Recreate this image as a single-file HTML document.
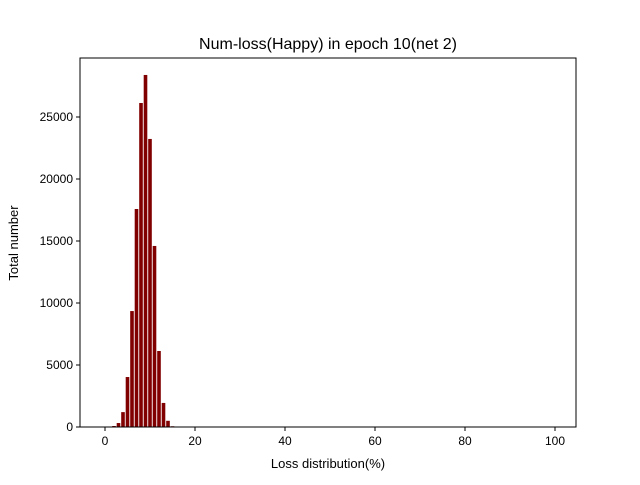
<!DOCTYPE html>
<html><head><meta charset="utf-8"><style>
body{margin:0;background:#fff;}
text{font-family:"Liberation Sans","DejaVu Sans",sans-serif;fill:#000;}
</style></head><body>
<svg id="c" width="640" height="480" xmlns="http://www.w3.org/2000/svg">
<rect width="640" height="480" fill="#fff"/>
<text x="328" y="49" font-size="16" text-anchor="middle">Num-loss(Happy) in epoch 10(net 2)</text>
<text x="328" y="468" font-size="13" text-anchor="middle">Loss distribution(%)</text>
<text transform="translate(18,243) rotate(-90)" font-size="13" text-anchor="middle">Total number</text>
<g id="bars"></g><g id="ticks"></g>
<rect x="80" y="58" width="496" height="369" fill="none" stroke="#000" stroke-width="1"/>
</svg>
<script>
const categories=[0,1,2,3,4,5,6,7,8,9,10,11,12,13,14,15];
const values=[0,10,80,320,1200,4030,9350,17580,26130,28390,23230,14600,6130,1940,500,60];
const xTicks=[0,20,40,60,80,100];
const yTicks=[0,5000,10000,15000,20000,25000];
const ns="http://www.w3.org/2000/svg";
const X=v=>105+v*4.5, Y=v=>427-v*0.0124;
const bars=document.getElementById('bars'), tk=document.getElementById('ticks');
categories.forEach((c,i)=>{
 const r=document.createElementNS(ns,'rect');
 r.setAttribute('x',X(c-0.4));r.setAttribute('width',4.5*0.8);
 r.setAttribute('y',Y(values[i]));r.setAttribute('height',427-Y(values[i]));
 r.setAttribute('fill','#800000');
 
 
 bars.appendChild(r);
});
xTicks.forEach(t=>{
 const l=document.createElementNS(ns,'line');
 l.setAttribute('x1',X(t));l.setAttribute('x2',X(t));l.setAttribute('y1',427);l.setAttribute('y2',431);l.setAttribute('stroke','#000');
 
 
 tk.appendChild(l);
 const s=document.createElementNS(ns,'text');
 s.setAttribute('x',X(t));s.setAttribute('y',445);s.setAttribute('font-size','12');s.setAttribute('text-anchor','middle');s.textContent=t;
 
 
 tk.appendChild(s);
});
yTicks.forEach(t=>{
 const l=document.createElementNS(ns,'line');
 l.setAttribute('x1',76);l.setAttribute('x2',80);l.setAttribute('y1',Y(t));l.setAttribute('y2',Y(t));l.setAttribute('stroke','#000');
 
 
 tk.appendChild(l);
 const s=document.createElementNS(ns,'text');
 s.setAttribute('x',73);s.setAttribute('y',Y(t)+4);s.setAttribute('font-size','12');s.setAttribute('text-anchor','end');s.textContent=t;
 
 
 tk.appendChild(s);
});
</script>
</body></html>
